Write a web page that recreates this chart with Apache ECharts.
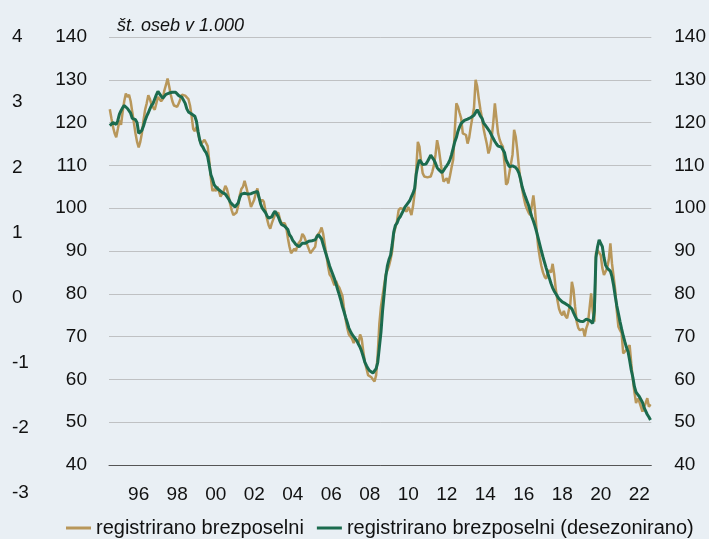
<!DOCTYPE html>
<html><head><meta charset="utf-8">
<script src="https://cdn.jsdelivr.net/npm/echarts@6/dist/echarts.min.js"></script>
<style>html,body{margin:0;padding:0;background:#e9eff4;}#c{width:709px;height:539px;}</style>
</head><body><div id="c"></div>
<script>
// ---- data ----
const startYear = 1995;            // first month: January 1995
const monthCount = 338;            // through February 2023
const xTickLabels = ['96','98','00','02','04','06','08','10','12','14','16','18','20','22'];
const leftTicks = [40, 140, 10];   // min, max, step
const outerTicks = [-3, 4, 1];
const titleText = 'št. oseb v 1.000';
const seriesNames = ['registrirano brezposelni', 'registrirano brezposelni (desezonirano)'];

// registrirano brezposelni (thousands), monthly
const rawValues = [
 123.1,121.0,119.0,117.5,116.6,118.5,120.5,119.5,122.5,125.0,126.8,126.0, // 1995
 126.5,125.0,122.5,120.0,117.5,115.5,114.2,115.5,117.5,120.5,123.0,124.5, // 1996
 126.4,125.5,124.2,123.5,123.0,124.5,126.0,125.8,125.0,125.5,127.5,128.8, // 1997
 130.3,128.5,126.5,125.0,124.0,123.7,123.7,124.5,125.5,126.5,126.8,126.3, // 1998
 126.0,125.5,124.0,121.5,118.5,118.0,119.0,117.5,116.0,115.0,115.5,116.0, // 1999
 116.3,114.5,111.0,107.0,104.0,104.5,104.0,105.0,104.0,102.7,103.0,104.0, // 2000
 105.2,104.5,103.0,101.0,99.5,98.4,98.5,99.0,100.5,103.0,104.5,105.0,     // 2001
 106.4,105.0,103.5,102.0,100.3,100.5,102.0,103.5,104.6,102.5,101.5,102.0, // 2002
 101.5,99.5,97.5,96.0,95.2,96.5,97.5,98.5,98.8,99.0,97.5,96.5,            // 2003
 96.1,96.5,95.5,93.0,91.0,89.5,90.0,90.5,90.0,91.4,92.0,92.5,             // 2004
 94.0,93.5,92.5,91.5,90.5,89.5,90.0,90.0,91.0,93.5,94.0,94.5,             // 2005
 95.5,94.0,91.5,89.0,86.5,84.5,84.0,83.0,82.0,83.0,82.0,81.5,             // 2006
 81.5,79.5,76.5,74.0,72.0,70.5,70.0,69.5,68.5,69.5,69.0,68.5,             // 2007
 70.5,69.5,66.5,64.0,62.5,61.0,61.0,60.5,60.0,59.5,61.0,66.0,             // 2008
 73.0,77.0,79.5,82.0,84.5,85.5,86.5,88.0,90.0,94.0,95.5,97.0,             // 2009
 99.5,100.0,100.3,99.8,99.5,99.2,100.3,99.5,98.4,100.5,103.5,109.0,       // 2010
 115.5,114.4,111.0,108.2,107.4,107.0,107.2,107.4,107.4,108.5,110.0,112.5, // 2011
 115.9,114.0,111.3,108.5,106.2,106.6,107.0,105.8,107.5,109.5,111.3,118.0, // 2012
 124.5,123.7,122.3,121.0,117.5,117.3,117.1,115.1,116.5,119.0,119.3,123.5, // 2013
 130.0,128.4,125.5,123.0,121.0,118.5,116.7,115.0,112.8,114.0,116.5,120.0, // 2014
 124.5,121.0,117.5,116.0,115.0,114.4,110.5,105.5,106.0,108.2,108.6,112.5, // 2015
 118.3,116.7,113.5,109.5,106.5,104.5,102.5,100.8,99.8,99.0,98.4,100.5,    // 2016
 103.0,99.6,95.0,91.0,88.5,86.5,85.0,84.0,83.5,85.0,85.5,85.0,            // 2017
 87.0,84.5,81.0,78.5,76.5,75.5,75.0,76.0,74.8,74.3,76.0,77.5,             // 2018
 82.8,81.0,77.0,73.5,72.0,71.5,71.1,71.8,70.0,72.0,73.1,73.0,             // 2019
 80.1,76.0,73.5,89.5,90.2,90.0,89.0,86.0,84.4,84.0,86.0,88.0,             // 2020
 91.8,87.1,84.0,80.9,76.0,72.3,71.5,70.8,66.1,66.5,66.9,67.5,             // 2021
 68.0,63.8,60.0,57.0,54.5,55.5,54.8,55.2,52.5,53.5,54.5,55.6,             // 2022
 53.6,54.2                                                               // 2023
];

// registrirano brezposelni (desezonirano), monthly
const saValues = [
 119.3,119.6,120.0,120.0,119.6,120.5,122.0,122.8,123.5,124.0,123.8,123.3, // 1995
 123.0,122.2,121.0,120.6,120.7,120.0,117.5,117.2,118.2,119.2,120.5,121.5, // 1996
 122.3,123.2,124.0,124.5,125.5,126.5,127.3,127.0,126.2,125.7,126.0,126.6, // 1997
 126.7,126.9,127.0,127.1,127.2,127.1,126.8,126.3,126.0,125.9,125.9,124.5, // 1998
 123.2,122.5,122.2,122.0,122.0,121.5,120.3,118.0,116.0,114.8,114.3,113.5, // 1999
 113.0,112.0,110.0,107.8,106.8,105.5,105.0,104.6,104.3,104.0,103.7,103.5, // 2000
 103.3,103.0,102.2,101.5,101.0,100.6,100.3,100.4,101.2,102.5,103.3,103.5, // 2001
 103.5,103.4,103.3,103.4,103.4,103.5,103.7,103.8,103.9,102.5,101.0,100.0, // 2002
 99.6,99.0,98.2,97.7,97.6,98.0,98.8,99.3,99.4,98.0,97.0,96.2,             // 2003
 96.0,95.8,95.8,95.0,93.8,93.3,92.5,92.0,91.5,91.3,91.0,91.3,             // 2004
 91.8,92.0,91.8,92.0,92.3,92.5,92.4,92.2,92.6,93.3,93.8,93.5,             // 2005
 92.8,91.5,90.2,89.0,87.8,86.5,85.5,84.5,83.5,82.3,81.0,79.8,             // 2006
 78.5,77.0,75.8,74.5,73.3,72.0,71.2,70.5,70.0,69.5,69.0,68.2,             // 2007
 67.5,66.5,65.3,64.0,63.2,62.5,62.0,61.6,61.5,61.8,62.5,64.0,             // 2008
 67.5,71.0,76.0,80.0,84.0,86.5,88.0,89.0,91.5,94.5,96.0,96.5,             // 2009
 97.5,98.0,98.4,99.5,100.3,100.8,101.1,101.8,102.7,103.5,104.6,108.0,     // 2010
 110.0,111.3,110.8,110.2,109.9,110.3,110.9,111.6,112.4,112.0,111.3,110.5, // 2011
 109.5,109.0,108.6,108.3,108.8,109.4,109.9,110.5,111.3,112.5,114.0,115.5, // 2012
 116.5,118.0,119.0,119.8,120.2,120.5,120.6,120.8,121.0,121.2,121.4,121.7, // 2013
 122.0,123.0,122.3,121.5,121.0,119.9,119.4,118.9,118.7,117.8,117.0,116.3, // 2014
 115.6,115.0,114.5,114.4,114.3,114.2,113.0,111.3,110.5,109.7,109.8,109.9, // 2015
 109.9,109.5,109.0,108.2,106.8,105.0,103.8,102.7,101.7,100.7,99.3,98.0,   // 2016
 97.0,95.8,94.5,93.0,91.5,90.0,88.6,87.3,86.0,84.8,83.6,82.4,             // 2017
 81.4,80.6,80.0,79.4,78.8,78.4,78.1,77.9,77.7,77.4,77.2,77.0,             // 2018
 76.5,75.6,74.8,74.0,73.7,73.6,73.5,73.5,73.8,74.1,74.3,73.8,             // 2019
 73.4,73.1,76.0,88.5,91.0,92.6,91.8,91.0,88.5,86.7,86.0,85.6,             // 2020
 85.3,84.0,82.0,79.5,77.2,75.4,73.5,71.8,70.2,68.8,67.5,66.5,             // 2021
 64.5,62.2,60.5,58.3,57.0,56.5,56.0,55.3,54.6,53.4,53.0,51.8,             // 2022
 51.2,50.5                                                               // 2023
];

// ---- build ----
const categories = [];
for (let i = 0; i < monthCount; i++) {
  const y = startYear + Math.floor(i / 12), m = i % 12 + 1;
  categories.push(y + '-' + (m < 10 ? '0' + m : m));
}
const FONT = "'Liberation Sans',Arial,sans-serif";
const TXT = '#111111';
const TAN = '#b8975a';
const GREEN = '#1b6b4e';
const FS = 19;
const labelSet = new Set(xTickLabels);

const chart = echarts.init(document.getElementById('c'), null, {renderer: 'canvas'});
chart.setOption({
  backgroundColor: '#e9eff4',
  animation: false,
  title: {
    text: titleText, left: 112, top: 12,
    textStyle: {fontFamily: FONT, fontSize: 18, fontStyle: 'italic', fontWeight: 'normal', color: TXT}
  },
  legend: {
    left: 66, top: 518, itemWidth: 25, itemHeight: 3, itemGap: 13, icon: 'rect',
    data: seriesNames, padding: 0,
    textStyle: {fontFamily: FONT, fontSize: 20, color: TXT}
  },
  grid: [
    {left: 109, right: 57, top: 37, bottom: 74},
    {left: 4, width: 1, top: 37, bottom: 46}
  ],
  xAxis: [
    {
      type: 'category', gridIndex: 0, data: categories, boundaryGap: true,
      axisLine: {lineStyle: {color: '#555555', width: 1}},
      axisTick: {length: 6, lineStyle: {color: '#555555'},
        interval: (i, v) => v.slice(5) === '01'},
      axisLabel: {
        interval: (i, v) => v.slice(5) === '07' && labelSet.has(v.slice(2, 4)),
        formatter: v => v.slice(2, 4),
        margin: 20, fontFamily: FONT, fontSize: FS, color: TXT
      },
      splitLine: {show: false}
    },
    {type: 'value', gridIndex: 1, show: false, min: 0, max: 1}
  ],
  yAxis: [
    {
      type: 'value', gridIndex: 0, position: 'left',
      min: leftTicks[0], max: leftTicks[1], interval: leftTicks[2],
      axisLine: {show: false}, axisTick: {show: false},
      splitLine: {show: true, lineStyle: {color: '#bfc1c3', width: 1}},
      axisLabel: {margin: 22, fontFamily: FONT, fontSize: FS, color: TXT}
    },
    {
      type: 'value', gridIndex: 0, position: 'right',
      min: leftTicks[0], max: leftTicks[1], interval: leftTicks[2],
      axisLine: {show: false}, axisTick: {show: false}, splitLine: {show: false},
      axisLabel: {margin: 23, fontFamily: FONT, fontSize: FS, color: TXT}
    },
    {
      type: 'value', gridIndex: 1, position: 'right',
      min: outerTicks[0], max: outerTicks[1], interval: outerTicks[2],
      axisLine: {show: false}, axisTick: {show: false}, splitLine: {show: false},
      axisLabel: {margin: 7, fontFamily: FONT, fontSize: FS, color: TXT}
    }
  ],
  series: [
    {
      name: seriesNames[0], type: 'line', xAxisIndex: 0, yAxisIndex: 0,
      data: rawValues, showSymbol: false, symbol: 'none',
      lineStyle: {color: TAN, width: 2.5}, itemStyle: {color: TAN}
    },
    {
      name: seriesNames[1], type: 'line', xAxisIndex: 0, yAxisIndex: 0,
      data: saValues, showSymbol: false, symbol: 'none',
      lineStyle: {color: GREEN, width: 3}, itemStyle: {color: GREEN}
    }
  ]
});
</script>
</body></html>
